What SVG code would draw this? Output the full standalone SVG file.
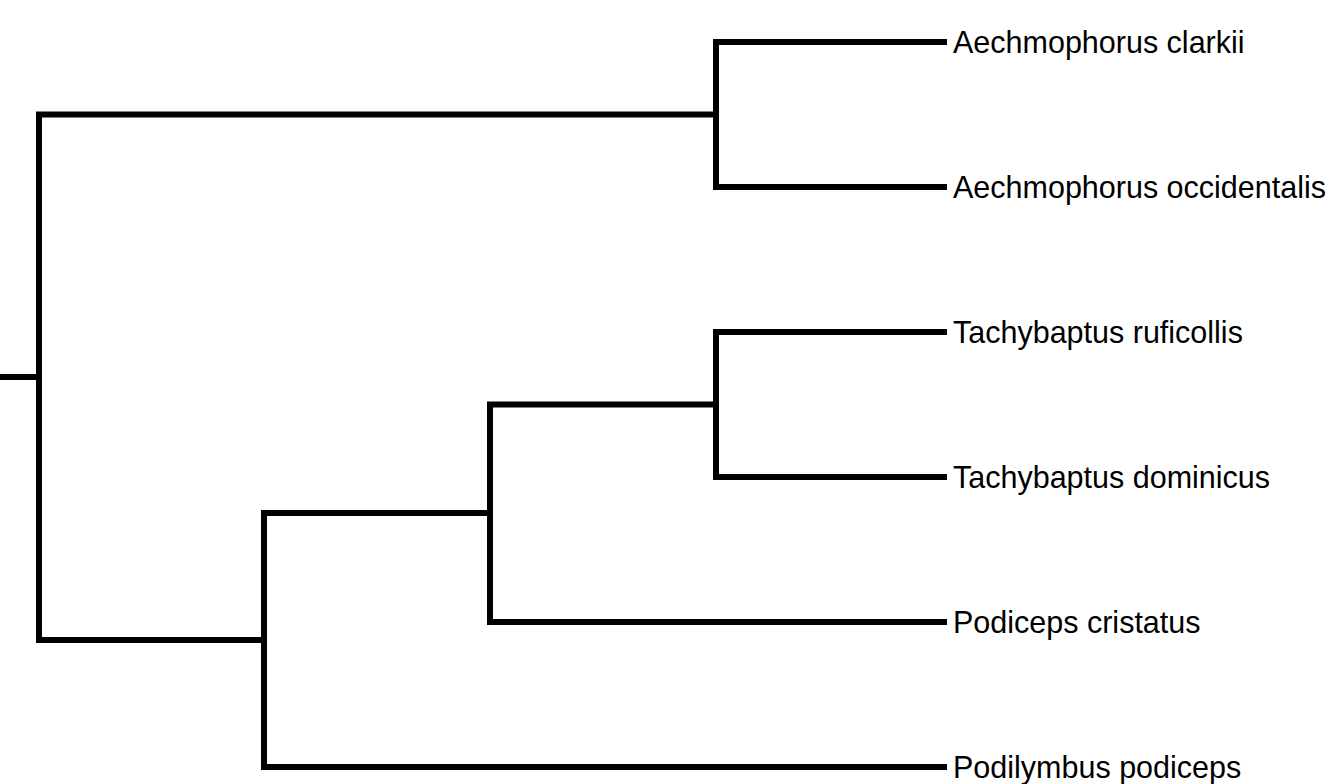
<svg xmlns="http://www.w3.org/2000/svg" width="1329" height="784" viewBox="0 0 1329 784">
<style>
.e{fill:none;stroke:#000;stroke-width:6;stroke-linejoin:miter;stroke-linecap:butt}
.t{font-family:"Liberation Sans",Arial,sans-serif;font-size:30.5px;fill:#000}
</style>
<rect width="1329" height="784" fill="#fff"/>
<g id="connectors">
<path class="e" d="M0,377 H39"/>
<path class="e" d="M716,114.5 H39 V640 H264"/>
<path class="e" d="M947,42 H716 V187 H947"/>
<path class="e" d="M490,513 H264 V767 H947"/>
<path class="e" d="M716,404.5 H490 V622 H947"/>
<path class="e" d="M947,332 H716 V477 H947"/>
</g>
<g id="leaf1"><text class="t" x="953" y="53">Aechmophorus clarkii</text></g>
<g id="leaf2"><text class="t" x="953" y="198">Aechmophorus occidentalis</text></g>
<g id="leaf3"><text class="t" x="953" y="343">Tachybaptus ruficollis</text></g>
<g id="leaf4"><text class="t" x="953" y="488">Tachybaptus dominicus</text></g>
<g id="leaf5"><text class="t" x="953" y="633">Podiceps cristatus</text></g>
<g id="leaf6"><text class="t" x="953" y="778">Podilymbus podiceps</text></g>
</svg>
